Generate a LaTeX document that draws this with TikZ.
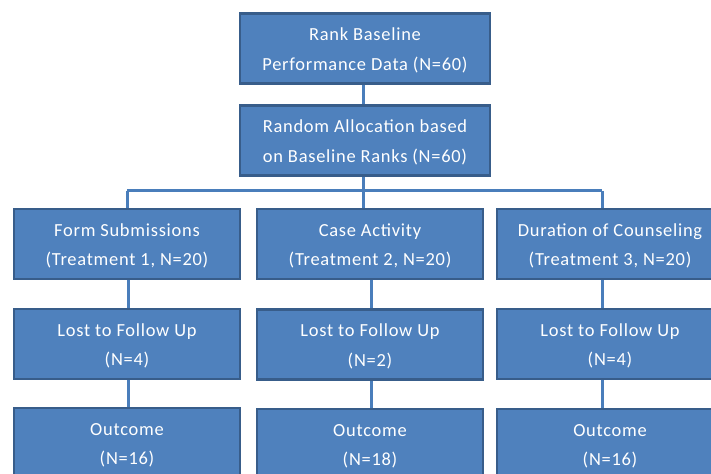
\documentclass[tikz,border=0pt]{standalone}
\usepackage{fontspec}
\setmainfont{Carlito}[LetterSpace=4]
\definecolor{boxfill}{HTML}{4F81BD}
\definecolor{boxline}{HTML}{385D8A}
\definecolor{linkcol}{HTML}{4A7EBB}
\newcommand{\boxtext}[2]{\parbox{#1}{\centering\vspace*{4bp}#2}}
\begin{document}
\begin{tikzpicture}[x=1bp,y=-1bp,
  box/.style={rectangle, fill=boxfill, draw=boxline, line width=2.5bp, text=white,
    align=center, inner sep=0pt, minimum width=226bp, minimum height=70bp,
    font=\fontsize{18.5}{29.5}\selectfont},
  wide/.style={minimum width=250bp},
  link/.style={draw=linkcol, line width=3bp}]
\useasboundingbox (0,0) rectangle (711,474);
\clip (0,0) rectangle (711,474);
\node[box,wide] (rank) at (365,48.5) {\boxtext{250bp}{Rank Baseline\\Performance Data (N=60)}};
\node[box,wide] (alloc) at (365,140.5) {\boxtext{250bp}{Random Allocation based\\on Baseline Ranks (N=60)}};
\node[box] (t1) at (127,244) {\boxtext{226bp}{Form Submissions\\(Treatment 1, N=20)}};
\node[box] (t2) at (370,244) {\boxtext{226bp}{Case Activity\\(Treatment 2, N=20)}};
\node[box] (t3) at (610,244) {\boxtext{226bp}{Duration of Counseling\\(Treatment 3, N=20)}};
\node[box] (l1) at (127,344) {\boxtext{226bp}{Lost to Follow Up\\(N=4)}};
\node[box] (l2) at (370,344.5) {\boxtext{226bp}{Lost to Follow Up\\(N=2)}};
\node[box] (l3) at (610,344) {\boxtext{226bp}{Lost to Follow Up\\(N=4)}};
\node[box] (o1) at (127,443) {\boxtext{226bp}{Outcome\\(N=16)}};
\node[box] (o2) at (370,444) {\boxtext{226bp}{Outcome\\(N=18)}};
\node[box] (o3) at (610,444) {\boxtext{226bp}{Outcome\\(N=16)}};
\coordinate (bl) at (127,191);
\coordinate (bm) at (363,191);
\coordinate (br) at (602,191);
\draw[link] (363,0 |- rank.south) -- (363,0 |- alloc.north);
\draw[link] (363,0 |- alloc.south) -- (bm);
\draw[link] (bl) -- (br);
\draw[link] (bl) -- (bl |- t1.north);
\draw[link] (bm) -- (bm |- t2.north);
\draw[link] (br) -- (br |- t3.north);
\draw[link] (128,0 |- t1.south) -- (128,0 |- l1.north);
\draw[link] (128,0 |- l1.south) -- (128,0 |- o1.north);
\draw[link] (371,0 |- t2.south) -- (371,0 |- l2.north);
\draw[link] (371,0 |- l2.south) -- (371,0 |- o2.north);
\draw[link] (602,0 |- t3.south) -- (602,0 |- l3.north);
\draw[link] (602,0 |- l3.south) -- (602,0 |- o3.north);
\end{tikzpicture}
\end{document}
